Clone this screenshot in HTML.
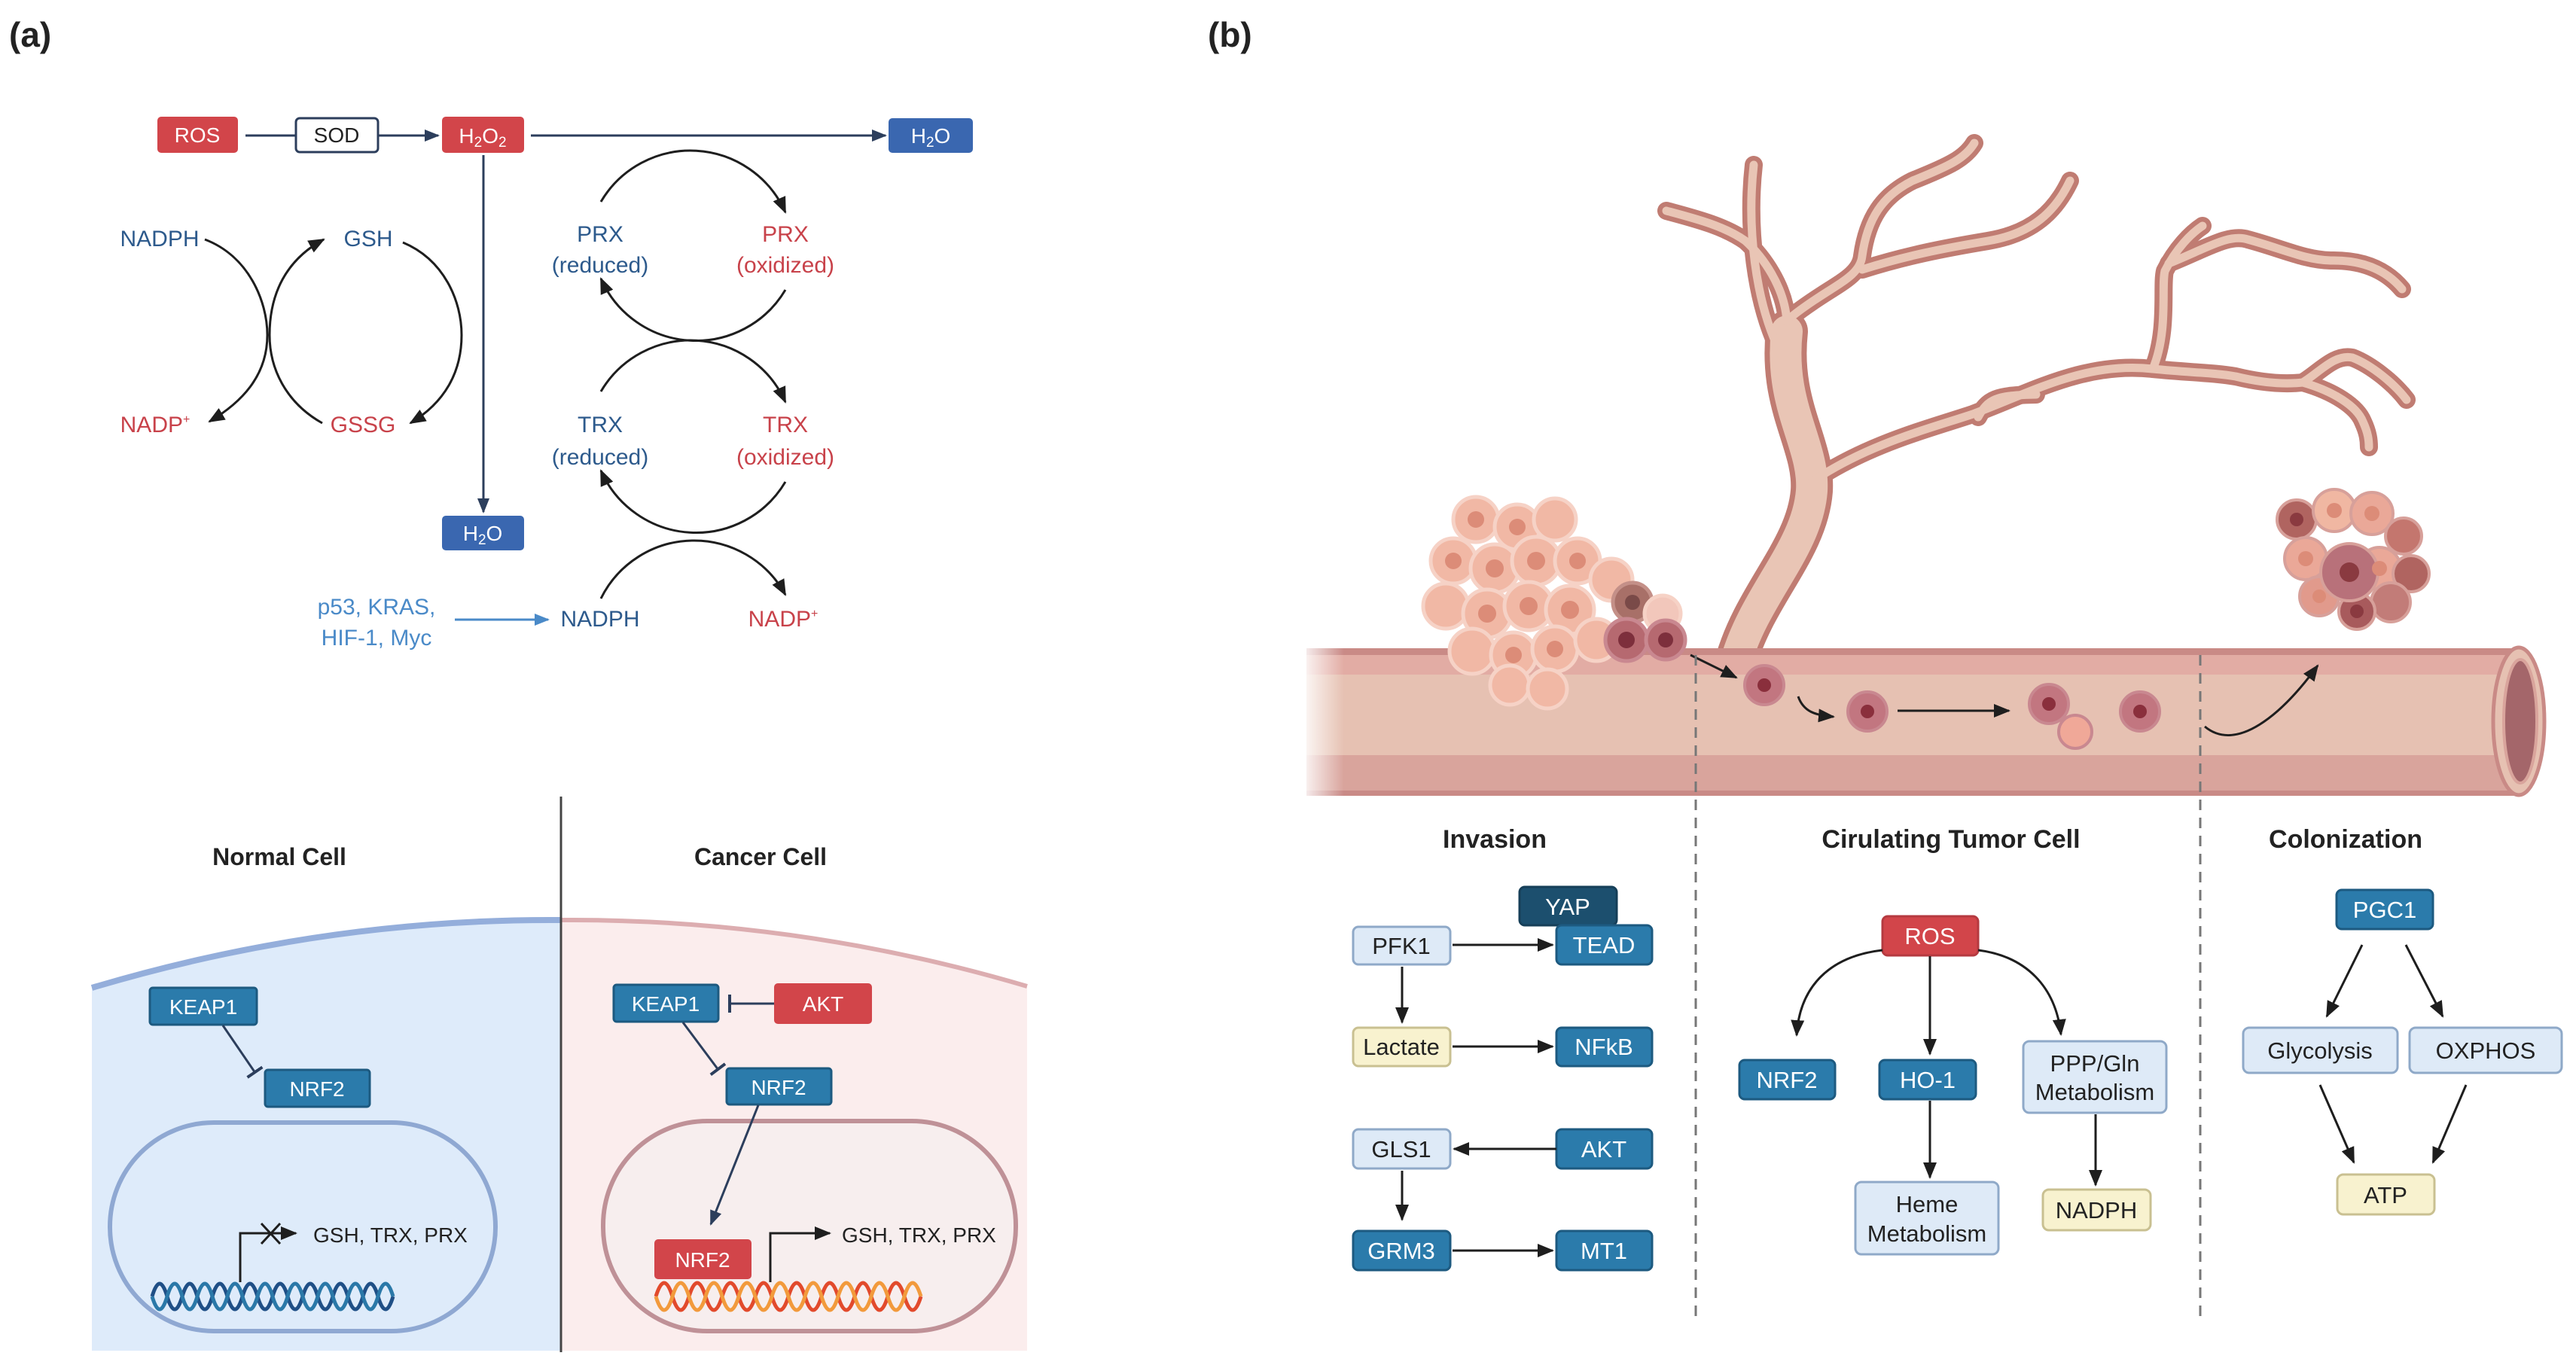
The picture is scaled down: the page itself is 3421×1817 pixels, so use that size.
<!DOCTYPE html>
<html><head><meta charset="utf-8"><style>
html,body{margin:0;padding:0;background:#fff}
svg{display:block}
text{font-family:"Liberation Sans",sans-serif}
</style></head><body>
<svg width="3421" height="1817" viewBox="0 0 3421 1817" xmlns="http://www.w3.org/2000/svg">
<defs>
<marker id="ak" markerWidth="24" markerHeight="24" refX="20" refY="12" orient="auto" markerUnits="userSpaceOnUse"><path d="M0,3 L22,12 L0,21 z" fill="#1e1e1e"/></marker>
<marker id="an" markerWidth="22" markerHeight="22" refX="18" refY="11" orient="auto" markerUnits="userSpaceOnUse"><path d="M0,3 L20,11 L0,19 z" fill="#2c3e5c"/></marker>
<marker id="al" markerWidth="22" markerHeight="22" refX="18" refY="11" orient="auto" markerUnits="userSpaceOnUse"><path d="M0,3 L20,11 L0,19 z" fill="#4a8ac8"/></marker>
<marker id="tb" markerWidth="6" markerHeight="30" refX="3" refY="15" orient="auto" markerUnits="userSpaceOnUse"><rect x="0" y="3" width="4" height="24" fill="#2c3e5c"/></marker>
<linearGradient id="fadeL" x1="0" x2="1"><stop offset="0" stop-color="#fff" stop-opacity="1"/><stop offset="1" stop-color="#fff" stop-opacity="0"/></linearGradient>
</defs>

<!-- ============ PANEL A ============ -->
<text x="12" y="62" font-size="46" font-weight="bold" fill="#222">(a)</text>

<rect x="209" y="155" width="107" height="48" rx="5" fill="#d2454a"/>
<text x="262" y="189" font-size="28" fill="#fff" text-anchor="middle">ROS</text>
<rect x="393" y="157" width="109" height="45" rx="5" fill="#fff" stroke="#2c3e5c" stroke-width="3"/>
<text x="447" y="189" font-size="28" fill="#222" text-anchor="middle">SOD</text>
<rect x="587" y="155" width="109" height="48" rx="5" fill="#d2454a"/>
<text x="641" y="190" font-size="28" fill="#fff" text-anchor="middle">H<tspan font-size="19" dy="5">2</tspan><tspan dy="-5">O</tspan><tspan font-size="19" dy="5">2</tspan></text>
<rect x="1180" y="157" width="112" height="46" rx="5" fill="#3a67b0"/>
<text x="1236" y="190" font-size="28" fill="#fff" text-anchor="middle">H<tspan font-size="19" dy="5">2</tspan><tspan dy="-5">O</tspan></text>
<line x1="326" y1="180" x2="393" y2="180" stroke="#2c3e5c" stroke-width="3"/>
<line x1="502" y1="180" x2="582" y2="180" stroke="#2c3e5c" stroke-width="3" marker-end="url(#an)"/>
<line x1="705" y1="180" x2="1176" y2="180" stroke="#2c3e5c" stroke-width="3" marker-end="url(#an)"/>
<line x1="642" y1="206" x2="642" y2="680" stroke="#2c3e5c" stroke-width="3" marker-end="url(#an)"/>
<rect x="587" y="685" width="109" height="46" rx="5" fill="#3a67b0"/>
<text x="641" y="718" font-size="28" fill="#fff" text-anchor="middle">H<tspan font-size="19" dy="5">2</tspan><tspan dy="-5">O</tspan></text>

<g font-size="30">
<text x="212" y="327" fill="#2d5a8c" text-anchor="middle">NADPH</text>
<text x="489" y="327" fill="#2d5a8c" text-anchor="middle">GSH</text>
<text x="206" y="574" fill="#c8424a" text-anchor="middle">NADP<tspan font-size="16" dy="-12">+</tspan></text>
<text x="482" y="574" fill="#c8424a" text-anchor="middle">GSSG</text>
</g>
<g fill="none" stroke="#1e1e1e" stroke-width="3">
<path d="M272,318 C330,340 355,400 355,445 C355,500 320,535 278,560" marker-end="url(#ak)"/>
<path d="M428,562 C380,535 358,490 358,445 C358,390 380,345 430,318" marker-end="url(#ak)"/>
<path d="M535,322 C590,345 613,400 613,445 C613,495 590,535 545,562" marker-end="url(#ak)"/>
</g>

<g fill="none" stroke="#1e1e1e" stroke-width="3">
<path d="M798,268 A138,138 0 0 1 1043,282" marker-end="url(#ak)"/>
<path d="M1043,385 A138,138 0 0 1 798,370" marker-end="url(#ak)"/>
<path d="M798,520 A138,138 0 0 1 1043,534" marker-end="url(#ak)"/>
<path d="M1043,640 A138,138 0 0 1 798,625" marker-end="url(#ak)"/>
<path d="M798,795 A138,138 0 0 1 1043,790" marker-end="url(#ak)"/>
</g>
<g font-size="30" text-anchor="middle">
<text x="797" y="321" fill="#2d5a8c">PRX</text>
<text x="797" y="362" fill="#2d5a8c">(reduced)</text>
<text x="1043" y="321" fill="#c8424a">PRX</text>
<text x="1043" y="362" fill="#c8424a">(oxidized)</text>
<text x="797" y="574" fill="#2d5a8c">TRX</text>
<text x="797" y="617" fill="#2d5a8c">(reduced)</text>
<text x="1043" y="574" fill="#c8424a">TRX</text>
<text x="1043" y="617" fill="#c8424a">(oxidized)</text>
<text x="797" y="832" fill="#2d5a8c">NADPH</text>
<text x="1040" y="832" fill="#c8424a">NADP<tspan font-size="16" dy="-12">+</tspan></text>
<text x="500" y="816" fill="#4a8ac8">p53, KRAS,</text>
<text x="500" y="857" fill="#4a8ac8">HIF-1, Myc</text>
</g>
<line x1="604" y1="823" x2="728" y2="823" stroke="#4a8ac8" stroke-width="3" marker-end="url(#al)"/>

<path d="M122,1312 Q430,1220 744,1222 L744,1794 L122,1794 z" fill="#deebfa"/>
<path d="M122,1312 Q430,1220 744,1222" fill="none" stroke="#94aedb" stroke-width="8"/>
<path d="M744,1222 Q1060,1220 1364,1310 L1364,1794 L744,1794 z" fill="#fbeded"/>
<path d="M744,1222 Q1060,1220 1364,1310" fill="none" stroke="#dcadb0" stroke-width="6"/>
<line x1="745" y1="1058" x2="745" y2="1796" stroke="#444" stroke-width="3"/>
<text x="371" y="1149" font-size="32" font-weight="bold" fill="#222" text-anchor="middle">Normal Cell</text>
<text x="1010" y="1149" font-size="32" font-weight="bold" fill="#222" text-anchor="middle">Cancer Cell</text>

<rect x="146" y="1491" width="512" height="277" rx="138" fill="#deebfa" stroke="#8fa8d2" stroke-width="6"/>
<rect x="801" y="1489" width="548" height="279" rx="138" fill="#f7eeee" stroke="#bf9197" stroke-width="6"/>

<g font-size="28" text-anchor="middle" fill="#fff">
<rect x="199" y="1312" width="142" height="49" rx="4" fill="#2b7bab" stroke="#1d5a80" stroke-width="3"/>
<text x="270" y="1347">KEAP1</text>
<rect x="352" y="1421" width="139" height="49" rx="4" fill="#2b7bab" stroke="#1d5a80" stroke-width="3"/>
<text x="421" y="1456">NRF2</text>
<rect x="815" y="1308" width="139" height="49" rx="4" fill="#2b7bab" stroke="#1d5a80" stroke-width="3"/>
<text x="884" y="1343">KEAP1</text>
<rect x="1028" y="1306" width="130" height="54" rx="5" fill="#d2454a"/>
<text x="1093" y="1343">AKT</text>
<rect x="965" y="1419" width="139" height="48" rx="4" fill="#2b7bab" stroke="#1d5a80" stroke-width="3"/>
<text x="1034" y="1454">NRF2</text>
<rect x="869" y="1646" width="129" height="53" rx="5" fill="#d2454a"/>
<text x="933" y="1683">NRF2</text>
</g>
<line x1="296" y1="1362" x2="339" y2="1425" stroke="#2c3e5c" stroke-width="3" marker-end="url(#tb)"/>
<line x1="907" y1="1358" x2="954" y2="1421" stroke="#2c3e5c" stroke-width="3" marker-end="url(#tb)"/>
<line x1="1028" y1="1333" x2="968" y2="1333" stroke="#2c3e5c" stroke-width="3" marker-end="url(#tb)"/>
<line x1="1007" y1="1468" x2="944" y2="1626" stroke="#2c3e5c" stroke-width="3" marker-end="url(#an)"/>

<path d="M319,1703 L319,1638 L393,1638" fill="none" stroke="#1e1e1e" stroke-width="3" marker-end="url(#ak)"/>
<path d="M347,1625 L372,1652 M372,1625 L347,1652" stroke="#1e1e1e" stroke-width="3"/>
<text x="416" y="1650" font-size="28" fill="#222">GSH, TRX, PRX</text>
<path d="M1023,1703 L1023,1638 L1102,1638" fill="none" stroke="#1e1e1e" stroke-width="3" marker-end="url(#ak)"/>
<text x="1118" y="1650" font-size="28" fill="#222">GSH, TRX, PRX</text>

<g fill="none" stroke-width="5">
<path d="M202,1722 q10,-34 20,0 t20,0 t20,0 t20,0 t20,0 t20,0 t20,0 t20,0 t20,0 t20,0 t20,0 t20,0 t20,0 t20,0 t20,0 t20,0" stroke="#1f4f86"/>
<path d="M202,1722 q10,34 20,0 t20,0 t20,0 t20,0 t20,0 t20,0 t20,0 t20,0 t20,0 t20,0 t20,0 t20,0 t20,0 t20,0 t20,0 t20,0" stroke="#2a78a8"/>
<path d="M871,1722 q11,-36 22,0 t22,0 t22,0 t22,0 t22,0 t22,0 t22,0 t22,0 t22,0 t22,0 t22,0 t22,0 t22,0 t22,0 t22,0 t22,0" stroke="#e24a2c"/>
<path d="M871,1722 q11,36 22,0 t22,0 t22,0 t22,0 t22,0 t22,0 t22,0 t22,0 t22,0 t22,0 t22,0 t22,0 t22,0 t22,0 t22,0 t22,0" stroke="#f29a3c"/>
</g>

<!-- ============ PANEL B ============ -->
<text x="1604" y="62" font-size="46" font-weight="bold" fill="#222">(b)</text>

<g fill="none" stroke-linecap="round" stroke-linejoin="round">
<path d="M2305,880 C2330,790 2400,730 2406,652 C2410,590 2362,540 2373,440" stroke="#c07c72" stroke-width="56"/>
<g stroke="#c07c72" stroke-width="24">
<path d="M2373,427 C2370,380 2340,340 2318,320 C2290,300 2250,290 2213,280"/>
<path d="M2365,470 C2330,400 2320,300 2329,219"/>
<path d="M2380,420 C2430,380 2470,370 2473,340 C2480,290 2500,260 2540,240 C2590,220 2610,210 2622,190"/>
<path d="M2473,358 C2530,340 2580,330 2640,320 C2700,310 2730,280 2749,240"/>
<path d="M2406,640 C2480,590 2560,570 2620,550 C2700,520 2770,480 2859,490 C2880,440 2870,380 2875,360 C2890,330 2910,310 2925,300"/>
<path d="M2880,350 C2930,330 2960,310 2985,318 C3030,330 3060,345 3095,346 C3140,345 3170,360 3190,384"/>
<path d="M2859,490 C2910,495 2940,495 2969,500 C3010,510 3040,510 3058,508 C3080,495 3100,470 3124,475 C3150,485 3180,510 3196,531"/>
<path d="M3058,508 C3100,520 3130,540 3138,560 C3145,575 3146,585 3146,594"/>
<path d="M2627,554 C2640,530 2650,525 2704,524"/>
</g>
<path d="M2305,880 C2330,790 2400,730 2406,652 C2410,590 2362,540 2373,440" stroke="#e9c5b5" stroke-width="42"/>
<g stroke="#e9c5b5" stroke-width="11">
<path d="M2373,427 C2370,380 2340,340 2318,320 C2290,300 2250,290 2213,280"/>
<path d="M2365,470 C2330,400 2320,300 2329,219"/>
<path d="M2380,420 C2430,380 2470,370 2473,340 C2480,290 2500,260 2540,240 C2590,220 2610,210 2622,190"/>
<path d="M2473,358 C2530,340 2580,330 2640,320 C2700,310 2730,280 2749,240"/>
<path d="M2406,640 C2480,590 2560,570 2620,550 C2700,520 2770,480 2859,490 C2880,440 2870,380 2875,360 C2890,330 2910,310 2925,300"/>
<path d="M2880,350 C2930,330 2960,310 2985,318 C3030,330 3060,345 3095,346 C3140,345 3170,360 3190,384"/>
<path d="M2859,490 C2910,495 2940,495 2969,500 C3010,510 3040,510 3058,508 C3080,495 3100,470 3124,475 C3150,485 3180,510 3196,531"/>
<path d="M3058,508 C3100,520 3130,540 3138,560 C3145,575 3146,585 3146,594"/>
<path d="M2627,554 C2640,530 2650,525 2704,524"/>
</g>
</g>

<rect x="1735" y="861" width="1610" height="195" fill="#e6c1b2"/>
<rect x="1735" y="861" width="1610" height="9" fill="#c98a86"/>
<rect x="1735" y="870" width="1610" height="26" fill="#e2aca4"/>
<rect x="1735" y="1003" width="1610" height="48" fill="#d9a49c"/>
<rect x="1735" y="1050" width="1610" height="7" fill="#c98a86"/>
<ellipse cx="3345" cy="958" rx="34" ry="98" fill="#e6c1b2" stroke="#c98a86" stroke-width="5"/>
<ellipse cx="3347" cy="958" rx="22" ry="82" fill="#a4666a" stroke="#d9a49c" stroke-width="4"/>
<rect x="1725" y="855" width="60" height="210" fill="url(#fadeL)"/>

<g stroke="#f6d2c6" stroke-width="5">
<g fill="#f1b8a5">
<circle cx="1960" cy="690" r="30"/><circle cx="2015" cy="700" r="30"/><circle cx="2065" cy="690" r="28"/>
<circle cx="1930" cy="745" r="30"/><circle cx="1985" cy="755" r="32"/><circle cx="2040" cy="745" r="32"/><circle cx="2095" cy="745" r="30"/><circle cx="2140" cy="770" r="28"/>
<circle cx="1920" cy="805" r="30"/><circle cx="1975" cy="815" r="32"/><circle cx="2030" cy="805" r="32"/><circle cx="2085" cy="810" r="32"/>
<circle cx="1955" cy="865" r="30"/><circle cx="2010" cy="870" r="30"/><circle cx="2065" cy="862" r="30"/><circle cx="2120" cy="850" r="28"/>
<circle cx="2005" cy="910" r="26"/><circle cx="2055" cy="915" r="26"/>
</g>
<g fill="#dc8c78" stroke="none">
<circle cx="1960" cy="690" r="11"/><circle cx="2015" cy="700" r="11"/><circle cx="1985" cy="755" r="12"/><circle cx="2040" cy="745" r="12"/><circle cx="2095" cy="745" r="11"/>
<circle cx="1975" cy="815" r="12"/><circle cx="2030" cy="805" r="12"/><circle cx="2085" cy="810" r="12"/><circle cx="2010" cy="870" r="11"/><circle cx="2065" cy="862" r="11"/><circle cx="1930" cy="745" r="11"/>
</g>
<circle cx="2168" cy="800" r="26" fill="#a87068" stroke="#c49088"/>
<circle cx="2168" cy="800" r="10" fill="#7a4a48" stroke="none"/>
<circle cx="2208" cy="815" r="24" fill="#f2c7bb"/>
<circle cx="2160" cy="850" r="28" fill="#b66970" stroke="#c98890"/>
<circle cx="2160" cy="850" r="11" fill="#7d2f3c" stroke="none"/>
<circle cx="2212" cy="850" r="26" fill="#b66970" stroke="#c98890"/>
<circle cx="2212" cy="850" r="10" fill="#7d2f3c" stroke="none"/>
</g>

<g stroke="#d7a09a" stroke-width="4">
<circle cx="3050" cy="690" r="26" fill="#b06460"/><circle cx="3100" cy="678" r="28" fill="#f0b7a2"/><circle cx="3150" cy="682" r="28" fill="#eaa898"/><circle cx="3192" cy="712" r="24" fill="#c4766e"/>
<circle cx="3062" cy="742" r="28" fill="#eaa898"/><circle cx="3160" cy="755" r="28" fill="#eaa898"/><circle cx="3202" cy="762" r="24" fill="#b06460"/>
<circle cx="3080" cy="792" r="26" fill="#e19a8c"/><circle cx="3175" cy="800" r="26" fill="#c27c78"/><circle cx="3130" cy="812" r="24" fill="#a85a5c"/>
<circle cx="3120" cy="760" r="38" fill="#b8717a"/>
</g>
<g fill="#8a3a40">
<circle cx="3120" cy="760" r="13"/><circle cx="3050" cy="690" r="9"/><circle cx="3130" cy="812" r="9"/>
</g>
<g fill="#dc8c78"><circle cx="3100" cy="678" r="10"/><circle cx="3150" cy="682" r="10"/><circle cx="3062" cy="742" r="10"/><circle cx="3160" cy="755" r="10"/><circle cx="3080" cy="792" r="9"/></g>

<g stroke="#c98890" stroke-width="4">
<circle cx="2343" cy="910" r="26" fill="#c27680"/><circle cx="2480" cy="945" r="26" fill="#c27680"/>
<circle cx="2721" cy="935" r="26" fill="#c27680"/><circle cx="2756" cy="972" r="22" fill="#f0a898"/><circle cx="2842" cy="945" r="26" fill="#c27680"/>
</g>
<g fill="#8a2f3c"><circle cx="2343" cy="910" r="9"/><circle cx="2480" cy="945" r="9"/><circle cx="2721" cy="935" r="9"/><circle cx="2842" cy="945" r="9"/></g>
<g fill="none" stroke="#1e1e1e" stroke-width="3">
<path d="M2245,870 L2306,900" marker-end="url(#ak)"/>
<path d="M2388,925 C2395,945 2410,950 2435,952" marker-end="url(#ak)"/>
<path d="M2520,944 L2668,944" marker-end="url(#ak)"/>
<path d="M2928,965 C2970,1000 3030,950 3078,884" marker-end="url(#ak)"/>
</g>

<line x1="2252" y1="870" x2="2252" y2="1748" stroke="#777" stroke-width="3" stroke-dasharray="14,10"/>
<line x1="2922" y1="870" x2="2922" y2="1748" stroke="#777" stroke-width="3" stroke-dasharray="14,10"/>

<g font-size="34" font-weight="bold" fill="#222" text-anchor="middle">
<text x="1985" y="1126">Invasion</text>
<text x="2591" y="1126">Cirulating Tumor  Cell</text>
<text x="3115" y="1126">Colonization</text>
</g>

<g font-size="31" text-anchor="middle">
<rect x="2018" y="1178" width="129" height="51" rx="7" fill="#1c4f6e" stroke="#163f58" stroke-width="3"/>
<text x="2082" y="1215" fill="#fff">YAP</text>
<rect x="1797" y="1231" width="129" height="50" rx="7" fill="#deeaf7" stroke="#8fa9c8" stroke-width="3"/>
<text x="1861" y="1267" fill="#222">PFK1</text>
<rect x="2067" y="1229" width="127" height="52" rx="7" fill="#2b7bab" stroke="#1d5a80" stroke-width="3"/>
<text x="2130" y="1266" fill="#fff">TEAD</text>
<rect x="1797" y="1365" width="129" height="51" rx="7" fill="#f8f2cf" stroke="#c9c091" stroke-width="3"/>
<text x="1861" y="1401" fill="#222">Lactate</text>
<rect x="2067" y="1365" width="127" height="51" rx="7" fill="#2b7bab" stroke="#1d5a80" stroke-width="3"/>
<text x="2130" y="1401" fill="#fff">NFkB</text>
<rect x="1797" y="1500" width="129" height="52" rx="7" fill="#deeaf7" stroke="#8fa9c8" stroke-width="3"/>
<text x="1861" y="1537" fill="#222">GLS1</text>
<rect x="2067" y="1500" width="127" height="52" rx="7" fill="#2b7bab" stroke="#1d5a80" stroke-width="3"/>
<text x="2130" y="1537" fill="#fff">AKT</text>
<rect x="1797" y="1635" width="129" height="52" rx="7" fill="#2b7bab" stroke="#1d5a80" stroke-width="3"/>
<text x="1861" y="1672" fill="#fff">GRM3</text>
<rect x="2067" y="1635" width="127" height="52" rx="7" fill="#2b7bab" stroke="#1d5a80" stroke-width="3"/>
<text x="2130" y="1672" fill="#fff">MT1</text>

<rect x="2500" y="1217" width="127" height="52" rx="7" fill="#d2454a" stroke="#b53a40" stroke-width="3"/>
<text x="2563" y="1254" fill="#fff">ROS</text>
<rect x="2310" y="1408" width="127" height="52" rx="7" fill="#2b7bab" stroke="#1d5a80" stroke-width="3"/>
<text x="2373" y="1445" fill="#fff">NRF2</text>
<rect x="2496" y="1408" width="128" height="52" rx="7" fill="#2b7bab" stroke="#1d5a80" stroke-width="3"/>
<text x="2560" y="1445" fill="#fff">HO-1</text>
<rect x="2687" y="1383" width="190" height="95" rx="8" fill="#deeaf7" stroke="#8fa9c8" stroke-width="3"/>
<text x="2782" y="1423" fill="#222">PPP/Gln</text>
<text x="2782" y="1461" fill="#222">Metabolism</text>
<rect x="2464" y="1570" width="190" height="96" rx="8" fill="#deeaf7" stroke="#8fa9c8" stroke-width="3"/>
<text x="2559" y="1610" fill="#222">Heme</text>
<text x="2559" y="1649" fill="#222">Metabolism</text>
<rect x="2713" y="1580" width="143" height="54" rx="8" fill="#f8f2cf" stroke="#c9c091" stroke-width="3"/>
<text x="2784" y="1618" fill="#222">NADPH</text>

<rect x="3103" y="1182" width="128" height="52" rx="7" fill="#2b7bab" stroke="#1d5a80" stroke-width="3"/>
<text x="3167" y="1219" fill="#fff">PGC1</text>
<rect x="2979" y="1365" width="205" height="60" rx="8" fill="#deeaf7" stroke="#8fa9c8" stroke-width="3"/>
<text x="3081" y="1406" fill="#222">Glycolysis</text>
<rect x="3200" y="1365" width="202" height="60" rx="8" fill="#deeaf7" stroke="#8fa9c8" stroke-width="3"/>
<text x="3301" y="1406" fill="#222">OXPHOS</text>
<rect x="3104" y="1560" width="129" height="53" rx="8" fill="#f8f2cf" stroke="#c9c091" stroke-width="3"/>
<text x="3168" y="1598" fill="#222">ATP</text>
</g>

<g fill="none" stroke="#1e1e1e" stroke-width="3">
<line x1="1929" y1="1255" x2="2062" y2="1255" marker-end="url(#ak)"/>
<line x1="1929" y1="1390" x2="2062" y2="1390" marker-end="url(#ak)"/>
<line x1="2067" y1="1526" x2="1931" y2="1526" marker-end="url(#ak)"/>
<line x1="1929" y1="1661" x2="2062" y2="1661" marker-end="url(#ak)"/>
<line x1="1862" y1="1284" x2="1862" y2="1358" marker-end="url(#ak)"/>
<line x1="1862" y1="1555" x2="1862" y2="1620" marker-end="url(#ak)"/>
<line x1="2563" y1="1270" x2="2563" y2="1400" marker-end="url(#ak)"/>
<path d="M2500,1262 C2430,1270 2390,1310 2386,1375" marker-end="url(#ak)"/>
<path d="M2627,1262 C2690,1270 2730,1310 2737,1374" marker-end="url(#ak)"/>
<line x1="2563" y1="1462" x2="2563" y2="1564" marker-end="url(#ak)"/>
<line x1="2783" y1="1480" x2="2783" y2="1574" marker-end="url(#ak)"/>
<line x1="3137" y1="1255" x2="3090" y2="1350" marker-end="url(#ak)"/>
<line x1="3195" y1="1255" x2="3244" y2="1350" marker-end="url(#ak)"/>
<line x1="3081" y1="1441" x2="3126" y2="1544" marker-end="url(#ak)"/>
<line x1="3275" y1="1441" x2="3231" y2="1544" marker-end="url(#ak)"/>
</g>
</svg>
</body></html>
